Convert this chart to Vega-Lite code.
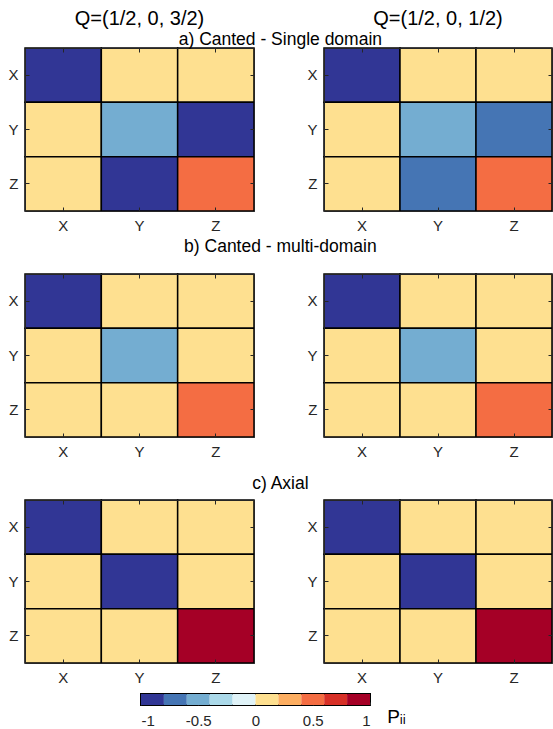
{
  "$schema": "https://vega.github.io/schema/vega-lite/v6.json",
  "autosize": {"type": "pad"},
  "padding": {"left": 7, "top": 9, "right": 0, "bottom": 0},
  "background": "white",
  "config": {
    "font": "Liberation Sans",
    "view": {"stroke": null},
    "axis": {
      "labelFont": "Liberation Sans",
      "labelFontSize": 15,
      "labelColor": "#262626",
      "tickColor": "#262626",
      "domainColor": "#262626",
      "domainWidth": 1,
      "tickSize": -4,
      "tickWidth": 1,
      "labelPadding": 11,
      "labelAngle": 0,
      "grid": false,
      "title": null
    },
    "title": {"font": "Liberation Sans", "fontWeight": "normal", "color": "black", "baseline": "alphabetic"}
  },
  "datasets": {
    "cells": [
      {"panel": "aL", "row": "X", "col": "X", "value": -1},
      {"panel": "aL", "row": "X", "col": "Y", "value": 0},
      {"panel": "aL", "row": "X", "col": "Z", "value": 0},
      {"panel": "aL", "row": "Y", "col": "X", "value": 0},
      {"panel": "aL", "row": "Y", "col": "Y", "value": -0.5},
      {"panel": "aL", "row": "Y", "col": "Z", "value": -1},
      {"panel": "aL", "row": "Z", "col": "X", "value": 0},
      {"panel": "aL", "row": "Z", "col": "Y", "value": -1},
      {"panel": "aL", "row": "Z", "col": "Z", "value": 0.5},
      {"panel": "aR", "row": "X", "col": "X", "value": -1},
      {"panel": "aR", "row": "X", "col": "Y", "value": 0},
      {"panel": "aR", "row": "X", "col": "Z", "value": 0},
      {"panel": "aR", "row": "Y", "col": "X", "value": 0},
      {"panel": "aR", "row": "Y", "col": "Y", "value": -0.5},
      {"panel": "aR", "row": "Y", "col": "Z", "value": -0.7},
      {"panel": "aR", "row": "Z", "col": "X", "value": 0},
      {"panel": "aR", "row": "Z", "col": "Y", "value": -0.7},
      {"panel": "aR", "row": "Z", "col": "Z", "value": 0.5},
      {"panel": "bL", "row": "X", "col": "X", "value": -1},
      {"panel": "bL", "row": "X", "col": "Y", "value": 0},
      {"panel": "bL", "row": "X", "col": "Z", "value": 0},
      {"panel": "bL", "row": "Y", "col": "X", "value": 0},
      {"panel": "bL", "row": "Y", "col": "Y", "value": -0.5},
      {"panel": "bL", "row": "Y", "col": "Z", "value": 0},
      {"panel": "bL", "row": "Z", "col": "X", "value": 0},
      {"panel": "bL", "row": "Z", "col": "Y", "value": 0},
      {"panel": "bL", "row": "Z", "col": "Z", "value": 0.5},
      {"panel": "bR", "row": "X", "col": "X", "value": -1},
      {"panel": "bR", "row": "X", "col": "Y", "value": 0},
      {"panel": "bR", "row": "X", "col": "Z", "value": 0},
      {"panel": "bR", "row": "Y", "col": "X", "value": 0},
      {"panel": "bR", "row": "Y", "col": "Y", "value": -0.5},
      {"panel": "bR", "row": "Y", "col": "Z", "value": 0},
      {"panel": "bR", "row": "Z", "col": "X", "value": 0},
      {"panel": "bR", "row": "Z", "col": "Y", "value": 0},
      {"panel": "bR", "row": "Z", "col": "Z", "value": 0.5},
      {"panel": "cL", "row": "X", "col": "X", "value": -1},
      {"panel": "cL", "row": "X", "col": "Y", "value": 0},
      {"panel": "cL", "row": "X", "col": "Z", "value": 0},
      {"panel": "cL", "row": "Y", "col": "X", "value": 0},
      {"panel": "cL", "row": "Y", "col": "Y", "value": -1},
      {"panel": "cL", "row": "Y", "col": "Z", "value": 0},
      {"panel": "cL", "row": "Z", "col": "X", "value": 0},
      {"panel": "cL", "row": "Z", "col": "Y", "value": 0},
      {"panel": "cL", "row": "Z", "col": "Z", "value": 1},
      {"panel": "cR", "row": "X", "col": "X", "value": -1},
      {"panel": "cR", "row": "X", "col": "Y", "value": 0},
      {"panel": "cR", "row": "X", "col": "Z", "value": 0},
      {"panel": "cR", "row": "Y", "col": "X", "value": 0},
      {"panel": "cR", "row": "Y", "col": "Y", "value": -1},
      {"panel": "cR", "row": "Y", "col": "Z", "value": 0},
      {"panel": "cR", "row": "Z", "col": "X", "value": 0},
      {"panel": "cR", "row": "Z", "col": "Y", "value": 0},
      {"panel": "cR", "row": "Z", "col": "Z", "value": 1}
    ],
    "bar": [
      {"lo": -1.0, "hi": -0.8, "v": -0.9},
      {"lo": -0.8, "hi": -0.6, "v": -0.7},
      {"lo": -0.6, "hi": -0.4, "v": -0.5},
      {"lo": -0.4, "hi": -0.2, "v": -0.3},
      {"lo": -0.2, "hi": 0.0, "v": -0.1},
      {"lo": 0.0, "hi": 0.2, "v": 0.1},
      {"lo": 0.2, "hi": 0.4, "v": 0.3},
      {"lo": 0.4, "hi": 0.6, "v": 0.5},
      {"lo": 0.6, "hi": 0.8, "v": 0.7},
      {"lo": 0.8, "hi": 1.0, "v": 0.9}
    ]
  },
  "spacing": 8,
  "vconcat": [
    {
      "spacing": 4,
      "vconcat": [
        {
          "bounds": "flush",
          "spacing": 70,
          "title": {"text": "a) Canted - Single domain", "fontSize": 17.5, "offset": -39, "anchor": "middle"},
          "hconcat": [
            {
              "width": 229, "height": 163,
              "data": {"name": "cells"},
              "title": {"text": "Q=(1/2, 0, 3/2)", "fontSize": 20, "offset": 18},
              "transform": [{"filter": "datum.panel == 'aL'"}],
              "layer": [
                {"mark": {"type": "rect", "stroke": "black", "strokeWidth": 1.5},
                 "encoding": {
                   "x": {"field": "col", "type": "nominal", "sort": ["X", "Y", "Z"], "axis": {"orient": "bottom"}},
                   "y": {"field": "row", "type": "nominal", "sort": ["X", "Y", "Z"], "axis": {"orient": "left"}},
                   "color": {"field": "value", "type": "quantitative", "legend": null,
                     "scale": {"type": "threshold", "domain": [-0.8, -0.6, -0.4, -0.2, 0, 0.2, 0.4, 0.6, 0.8],
                       "range": ["#313695", "#4575b4", "#74add1", "#abd9e9", "#e0f3f8", "#fee090", "#fdae61", "#f46d43", "#d73027", "#a50026"]}}
                 }},
                {"mark": {"type": "rect", "opacity": 0},
                 "encoding": {
                   "x": {"field": "col", "type": "nominal", "sort": ["X", "Y", "Z"], "axis": {"orient": "top", "labels": false}},
                   "y": {"field": "row", "type": "nominal", "sort": ["X", "Y", "Z"], "axis": {"orient": "right", "labels": false}}
                 }}
              ],
              "resolve": {"axis": {"x": "independent", "y": "independent"}}
            },
            {
              "width": 228, "height": 163,
              "data": {"name": "cells"},
              "title": {"text": "Q=(1/2, 0, 1/2)", "fontSize": 20, "offset": 18},
              "transform": [{"filter": "datum.panel == 'aR'"}],
              "layer": [
                {"mark": {"type": "rect", "stroke": "black", "strokeWidth": 1.5},
                 "encoding": {
                   "x": {"field": "col", "type": "nominal", "sort": ["X", "Y", "Z"], "axis": {"orient": "bottom"}},
                   "y": {"field": "row", "type": "nominal", "sort": ["X", "Y", "Z"], "axis": {"orient": "left"}},
                   "color": {"field": "value", "type": "quantitative", "legend": null,
                     "scale": {"type": "threshold", "domain": [-0.8, -0.6, -0.4, -0.2, 0, 0.2, 0.4, 0.6, 0.8],
                       "range": ["#313695", "#4575b4", "#74add1", "#abd9e9", "#e0f3f8", "#fee090", "#fdae61", "#f46d43", "#d73027", "#a50026"]}}
                 }},
                {"mark": {"type": "rect", "opacity": 0},
                 "encoding": {
                   "x": {"field": "col", "type": "nominal", "sort": ["X", "Y", "Z"], "axis": {"orient": "top", "labels": false}},
                   "y": {"field": "row", "type": "nominal", "sort": ["X", "Y", "Z"], "axis": {"orient": "right", "labels": false}}
                 }}
              ],
              "resolve": {"axis": {"x": "independent", "y": "independent"}}
            }
          ]
        },
        {
          "spacing": 15,
          "vconcat": [
            {
              "bounds": "flush",
              "spacing": 70,
              "title": {"text": "b) Canted - multi-domain", "fontSize": 17.5, "offset": 18, "anchor": "middle"},
              "hconcat": [
                {
                  "width": 229, "height": 163,
                  "data": {"name": "cells"},
                  "transform": [{"filter": "datum.panel == 'bL'"}],
                  "layer": [
                    {"mark": {"type": "rect", "stroke": "black", "strokeWidth": 1.5},
                     "encoding": {
                       "x": {"field": "col", "type": "nominal", "sort": ["X", "Y", "Z"], "axis": {"orient": "bottom"}},
                       "y": {"field": "row", "type": "nominal", "sort": ["X", "Y", "Z"], "axis": {"orient": "left"}},
                       "color": {"field": "value", "type": "quantitative", "legend": null,
                         "scale": {"type": "threshold", "domain": [-0.8, -0.6, -0.4, -0.2, 0, 0.2, 0.4, 0.6, 0.8],
                           "range": ["#313695", "#4575b4", "#74add1", "#abd9e9", "#e0f3f8", "#fee090", "#fdae61", "#f46d43", "#d73027", "#a50026"]}}
                     }},
                    {"mark": {"type": "rect", "opacity": 0},
                     "encoding": {
                       "x": {"field": "col", "type": "nominal", "sort": ["X", "Y", "Z"], "axis": {"orient": "top", "labels": false}},
                       "y": {"field": "row", "type": "nominal", "sort": ["X", "Y", "Z"], "axis": {"orient": "right", "labels": false}}
                     }}
                  ],
                  "resolve": {"axis": {"x": "independent", "y": "independent"}}
                },
                {
                  "width": 228, "height": 163,
                  "data": {"name": "cells"},
                  "transform": [{"filter": "datum.panel == 'bR'"}],
                  "layer": [
                    {"mark": {"type": "rect", "stroke": "black", "strokeWidth": 1.5},
                     "encoding": {
                       "x": {"field": "col", "type": "nominal", "sort": ["X", "Y", "Z"], "axis": {"orient": "bottom"}},
                       "y": {"field": "row", "type": "nominal", "sort": ["X", "Y", "Z"], "axis": {"orient": "left"}},
                       "color": {"field": "value", "type": "quantitative", "legend": null,
                         "scale": {"type": "threshold", "domain": [-0.8, -0.6, -0.4, -0.2, 0, 0.2, 0.4, 0.6, 0.8],
                           "range": ["#313695", "#4575b4", "#74add1", "#abd9e9", "#e0f3f8", "#fee090", "#fdae61", "#f46d43", "#d73027", "#a50026"]}}
                     }},
                    {"mark": {"type": "rect", "opacity": 0},
                     "encoding": {
                       "x": {"field": "col", "type": "nominal", "sort": ["X", "Y", "Z"], "axis": {"orient": "top", "labels": false}},
                       "y": {"field": "row", "type": "nominal", "sort": ["X", "Y", "Z"], "axis": {"orient": "right", "labels": false}}
                     }}
                  ],
                  "resolve": {"axis": {"x": "independent", "y": "independent"}}
                }
              ]
            },
            {
              "bounds": "flush",
              "spacing": 70,
              "title": {"text": "c) Axial", "fontSize": 17.5, "offset": 7, "anchor": "middle"},
              "hconcat": [
                {
                  "width": 229, "height": 163,
                  "data": {"name": "cells"},
                  "transform": [{"filter": "datum.panel == 'cL'"}],
                  "layer": [
                    {"mark": {"type": "rect", "stroke": "black", "strokeWidth": 1.5},
                     "encoding": {
                       "x": {"field": "col", "type": "nominal", "sort": ["X", "Y", "Z"], "axis": {"orient": "bottom"}},
                       "y": {"field": "row", "type": "nominal", "sort": ["X", "Y", "Z"], "axis": {"orient": "left"}},
                       "color": {"field": "value", "type": "quantitative", "legend": null,
                         "scale": {"type": "threshold", "domain": [-0.8, -0.6, -0.4, -0.2, 0, 0.2, 0.4, 0.6, 0.8],
                           "range": ["#313695", "#4575b4", "#74add1", "#abd9e9", "#e0f3f8", "#fee090", "#fdae61", "#f46d43", "#d73027", "#a50026"]}}
                     }},
                    {"mark": {"type": "rect", "opacity": 0},
                     "encoding": {
                       "x": {"field": "col", "type": "nominal", "sort": ["X", "Y", "Z"], "axis": {"orient": "top", "labels": false}},
                       "y": {"field": "row", "type": "nominal", "sort": ["X", "Y", "Z"], "axis": {"orient": "right", "labels": false}}
                     }}
                  ],
                  "resolve": {"axis": {"x": "independent", "y": "independent"}}
                },
                {
                  "width": 228, "height": 163,
                  "data": {"name": "cells"},
                  "transform": [{"filter": "datum.panel == 'cR'"}],
                  "layer": [
                    {"mark": {"type": "rect", "stroke": "black", "strokeWidth": 1.5},
                     "encoding": {
                       "x": {"field": "col", "type": "nominal", "sort": ["X", "Y", "Z"], "axis": {"orient": "bottom"}},
                       "y": {"field": "row", "type": "nominal", "sort": ["X", "Y", "Z"], "axis": {"orient": "left"}},
                       "color": {"field": "value", "type": "quantitative", "legend": null,
                         "scale": {"type": "threshold", "domain": [-0.8, -0.6, -0.4, -0.2, 0, 0.2, 0.4, 0.6, 0.8],
                           "range": ["#313695", "#4575b4", "#74add1", "#abd9e9", "#e0f3f8", "#fee090", "#fdae61", "#f46d43", "#d73027", "#a50026"]}}
                     }},
                    {"mark": {"type": "rect", "opacity": 0},
                     "encoding": {
                       "x": {"field": "col", "type": "nominal", "sort": ["X", "Y", "Z"], "axis": {"orient": "top", "labels": false}},
                       "y": {"field": "row", "type": "nominal", "sort": ["X", "Y", "Z"], "axis": {"orient": "right", "labels": false}}
                     }}
                  ],
                  "resolve": {"axis": {"x": "independent", "y": "independent"}}
                }
              ]
            }
          ]
        }
      ]
    },
    {
      "bounds": "flush",
      "spacing": 10,
      "hconcat": [
        {"width": 106, "height": 11, "data": {"values": []}, "mark": "point", "encoding": {}},
        {
          "width": 229, "height": 11,
          "data": {"name": "bar"},
          "view": {"stroke": "black", "strokeWidth": 2},
          "title": {"text": "Pᵢᵢ", "orient": "right", "angle": 0, "anchor": "end", "frame": "group", "baseline": "alphabetic", "align": "left", "fontSize": 19, "offset": -2, "dy": 18},
          "mark": {"type": "rect"},
          "encoding": {
            "x": {"field": "lo", "type": "quantitative", "scale": {"domain": [-1, 1], "nice": false, "zero": false},
              "axis": {"values": [-1, -0.5, 0, 0.5, 1], "labelExpr": "'' + datum.value", "labelFontSize": 15, "labelPadding": 11, "tickSize": -3, "domain": false, "tickColor": "#262626"}},
            "x2": {"field": "hi"},
            "color": {"field": "v", "type": "quantitative", "legend": null,
              "scale": {"type": "threshold", "domain": [-0.8, -0.6, -0.4, -0.2, 0, 0.2, 0.4, 0.6, 0.8],
                "range": ["#313695", "#4575b4", "#74add1", "#abd9e9", "#e0f3f8", "#fee090", "#fdae61", "#f46d43", "#d73027", "#a50026"]}}
          }
        }
      ]
    }
  ]
}
